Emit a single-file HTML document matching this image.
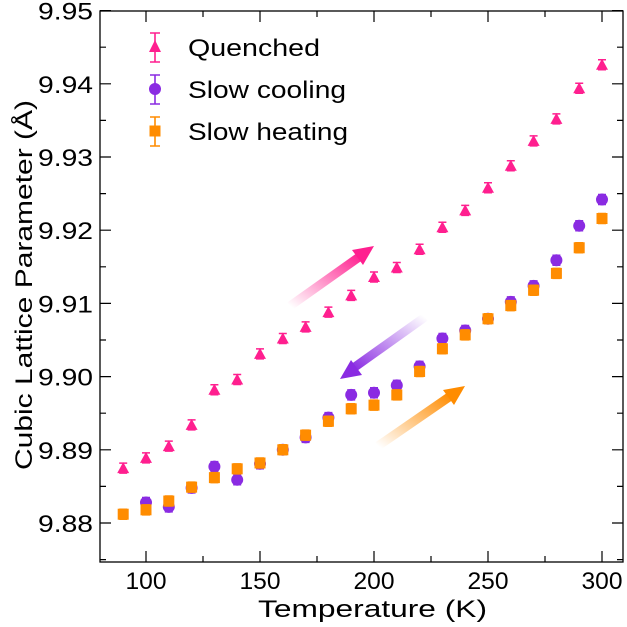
<!DOCTYPE html>
<html><head><meta charset="utf-8"><style>
html,body{margin:0;padding:0;background:#fff;}
svg{display:block;font-family:"Liberation Sans",sans-serif;}
</style></head><body>
<svg id="chart" width="627" height="627" viewBox="0 0 627 627">
<defs>
<linearGradient id="gPink" x1="0" y1="1" x2="1" y2="0"><stop offset="0" stop-color="#ff1f8f" stop-opacity="0"/><stop offset="1" stop-color="#ff1f8f"/></linearGradient>
<linearGradient id="gPurple" x1="1" y1="0" x2="0" y2="1"><stop offset="0" stop-color="#8a2be2" stop-opacity="0"/><stop offset="1" stop-color="#8a2be2"/></linearGradient>
<linearGradient id="gOrange" x1="0" y1="1" x2="1" y2="0"><stop offset="0" stop-color="#ff8c00" stop-opacity="0"/><stop offset="1" stop-color="#ff8c00"/></linearGradient>
</defs>
<g id="axes"></g>
<g id="marks"></g>
<g>
<line x1="290" y1="306" x2="362" y2="255" stroke="url(#gPink)" stroke-width="9"/>
<polygon points="374,246 352,250 363,265" fill="#ff1f8f"/>
<line x1="425" y1="317" x2="352" y2="369" stroke="url(#gPurple)" stroke-width="9"/>
<polygon points="340,379 362,375 351,360" fill="#8a2be2"/>
<line x1="378" y1="446" x2="452" y2="395" stroke="url(#gOrange)" stroke-width="9"/>
<polygon points="465,386 443,390 454,405" fill="#ff8c00"/>
</g>
<g id="legend"></g>
</svg>
<script>
const xs = [90,100,110,120,130,140,150,160,170,180,190,200,210,220,230,240,250,260,270,280,290,300];
const quenched = [9.8875,9.8889,9.8905,9.8934,9.8982,9.8996,9.9031,9.9052,9.9068,9.9088,9.9111,9.9136,9.9149,9.9174,9.9204,9.9227,9.9258,9.9288,9.9322,9.9352,9.9394,9.9426];
const coolingX = [100,110,120,130,140,150,160,170,180,190,200,210,220,230,240,250,260,270,280,290,300];
const cooling = [9.8828,9.8822,9.8848,9.8877,9.8859,9.8881,9.8900,9.8917,9.8944,9.8975,9.8978,9.8988,9.9014,9.9052,9.9063,9.9079,9.9102,9.9124,9.9159,9.9206,9.9242];
const heating = [9.8812,9.8818,9.8830,9.8849,9.8862,9.8874,9.8882,9.8900,9.8920,9.8939,9.8956,9.8961,9.8975,9.9007,9.9038,9.9057,9.9079,9.9097,9.9118,9.9141,9.9176,9.9216];
const xTicks = [100,150,200,250,300];
const yTicks = [9.88,9.89,9.90,9.91,9.92,9.93,9.94,9.95];
const yLabels = ["9.88","9.89","9.90","9.91","9.92","9.93","9.94","9.95"];

const L=100,R=623,T=11,B=562;
function X(v){return 146+(v-100)*2.28;}
function Y(v){return 523-(v-9.88)*7320;}
const NS="http://www.w3.org/2000/svg";
function mk(tag,attrs,parent){const e=document.createElementNS(NS,tag);for(const k in attrs)e.setAttribute(k,attrs[k]);parent.appendChild(e);return e;}
const axes=document.getElementById('axes');
const marks=document.getElementById('marks');
const frame=mk('rect',{x:L,y:T,width:R-L,height:B-T,fill:'none',stroke:'#000','stroke-width':1.3},axes);


xTicks.forEach(v=>{
  const x=X(v);
  const t=mk('path',{d:`M${x},${B}v-11M${x},${T}v11`,stroke:'#000','stroke-width':1.2},axes);
  
  
  const m=X(v+25);
  if(m<R){const mt=mk('path',{d:`M${m},${B}v-6M${m},${T}v6`,stroke:'#000','stroke-width':1.2},axes);
  
  }
  const lb=mk('text',{x:x,y:589,'text-anchor':'middle','font-size':24,textLength:41,lengthAdjust:'spacingAndGlyphs'},axes);lb.textContent=v;
  
  
});
yTicks.forEach((v,i)=>{
  const y=Y(v);
  const t=mk('path',{d:`M${L},${y}h11M${R},${y}h-11`,stroke:'#000','stroke-width':1.2},axes);
  
  
  const my=Y(v-0.005);
  if(my<B){const mt=mk('path',{d:`M${L},${my}h6M${R},${my}h-6`,stroke:'#000','stroke-width':1.2},axes);
  
  }
  const lb=mk('text',{x:38,y:y+9,'font-size':24,textLength:55,lengthAdjust:'spacingAndGlyphs'},axes);lb.textContent=yLabels[i];
  
  
});
const xt=mk('text',{x:258,y:617,'font-size':24,textLength:229,lengthAdjust:'spacingAndGlyphs'},axes);xt.textContent='Temperature (K)';


const yt=mk('text',{x:-470,y:32,'font-size':24,transform:'rotate(-90)',textLength:370,lengthAdjust:'spacingAndGlyphs'},axes);yt.textContent='Cubic Lattice Parameter (Å)';



function marker(kind,cx,cy,color,parent){
  mk('path',{d:`M${cx},${cy-5}v10M${cx-4},${cy-5}h8M${cx-4},${cy+5}h8`,stroke:color,'stroke-width':1.5},parent);
  if(kind==='tri') return mk('polygon',{points:`${cx},${cy-6} ${cx+6},${cy+5} ${cx-6},${cy+5}`,fill:color},parent);
  if(kind==='circ') return mk('circle',{cx:cx,cy:cy,r:6,fill:color},parent);
  return mk('rect',{x:cx-5.5,y:cy-5.5,width:11,height:11,fill:color},parent);
}
const PINK='#ff1f8f',PURP='#8a2be2',ORNG='#ff8c00';
xs.forEach((v,i)=>{const g=mk('g',{},marks);
  
  
  marker('tri',X(v),Y(quenched[i]),PINK,g);});
coolingX.forEach((v,i)=>{const g=mk('g',{},marks);
  
  
  marker('circ',X(v),Y(cooling[i]),PURP,g);});
xs.forEach((v,i)=>{const g=mk('g',{},marks);
  
  
  marker('sq',X(v),Y(heating[i]),ORNG,g);});

const legend=document.getElementById('legend');
[['tri',PINK,'Quenched',47,132],['circ',PURP,'Slow cooling',89,158],['sq',ORNG,'Slow heating',131,160]].forEach(r=>{
  const g=mk('g',{},legend);
  
  
  mk('path',{d:`M155,${r[3]-14}v29M150,${r[3]-14}h10M150,${r[3]+15}h10`,stroke:r[1],'stroke-width':1.6},g);
  if(r[0]==='tri') mk('polygon',{points:`155,${r[3]-7} 161,${r[3]+5} 149,${r[3]+5}`,fill:r[1]},g);
  else if(r[0]==='circ') mk('circle',{cx:155,cy:r[3],r:6,fill:r[1]},g);
  else mk('rect',{x:149.5,y:r[3]-5.5,width:11,height:11,fill:r[1]},g);
  const t=mk('text',{x:188,y:r[3]+9,'font-size':24,textLength:r[4],lengthAdjust:'spacingAndGlyphs'},g);t.textContent=r[2];
});
</script>
</body></html>
